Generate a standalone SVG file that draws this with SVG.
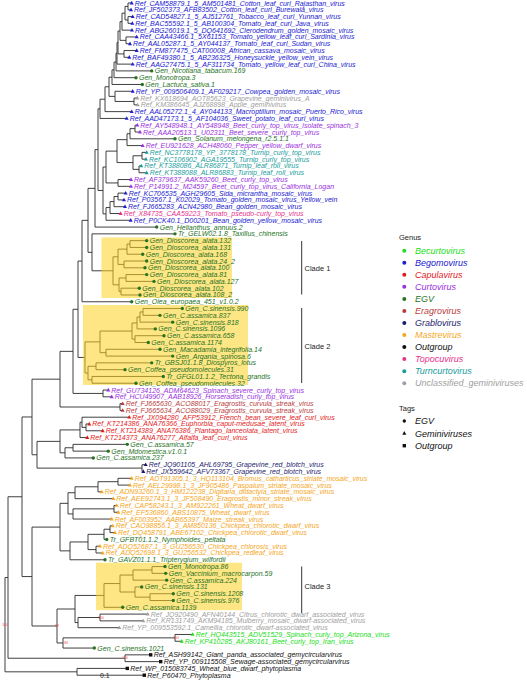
<svg xmlns="http://www.w3.org/2000/svg" xmlns:xlink="http://www.w3.org/1999/xlink" width="527" height="680" viewBox="0 0 527 680">
<style>
.e{fill:none;stroke:#2b2b2b;stroke-width:0.9}
.t{font-family:"Liberation Sans",Arial,sans-serif;font-style:italic;font-size:7px}
.lg{font-family:"Liberation Sans",Arial,sans-serif;font-style:italic;font-size:9px}
.ti{font-family:"Liberation Sans",Arial,sans-serif;font-size:7.5px;fill:#222}
.bs{font-family:"Liberation Sans",Arial,sans-serif;font-size:3.3px;fill:#e8474c;text-anchor:middle}
.hl{fill:#ffd21f;fill-opacity:0.55}
.bar{stroke:#333;stroke-width:1}
.be{fill:#22dd22}.bg{fill:#2020d0}.ca{fill:#e31a1c}.cu{fill:#9b30e0}.eg{fill:#267326}.er{fill:#b83c3c}
.gr{fill:#1c1c6e}.ma{fill:#f5a623}.og{fill:#111}.to{fill:#e6308a}.tu{fill:#199c9c}.un{fill:#a0a0a0}
</style>
<defs>
<circle id="c" r="1.7"/>
<path id="tr" d="M0,-2.2L2,1.4L-2,1.4Z"/>
<rect id="sq" x="-1.7" y="-1.7" width="3.4" height="3.4"/>
</defs>
<g id="connectors" class="e">
<path d="M131.7,3H128V9.79H131"/>
<path d="M132.7,16.58H128V23.37H132.3"/>
<path d="M128,6.4H125V19.98H128"/>
<path d="M125,13.19H122V30.16H132"/>
<path d="M136.7,36.95H126V43.74H130"/>
<path d="M122,21.67H120V40.35H126"/>
<path d="M136.7,50.53H124V57.32H129.3"/>
<path d="M120,31.01H118V53.93H124"/>
<path d="M118,42.47H117V64.11H132.7"/>
<path d="M117,53.29H116V70.9H151.7"/>
<path d="M116,62.1H114V77.69H136"/>
<path d="M114,69.9H112V84.48H142.3"/>
<path d="M137.3,98.06H134V104.85H137.7"/>
<path d="M132.7,91.27H115V101.46H134"/>
<path d="M112,77.19H109V96.36H115"/>
<path d="M109,86.78H105V111.64H131.7"/>
<path d="M105,99.21H100V118.43H126.7"/>
<path d="M137.3,125.22H135V132.01H140"/>
<path d="M135,128.62H130V138.8H175"/>
<path d="M130,133.71H127V145.59H142.7"/>
<path d="M146.7,152.38H142V159.17H146"/>
<path d="M141.3,165.96H139V172.75H146.7"/>
<path d="M142,155.78H133V169.36H139"/>
<path d="M127,139.65H117V162.57H133"/>
<path d="M131,179.54H118V186.33H131"/>
<path d="M117,151.11H106V182.94H118"/>
<path d="M125.7,193.12H118V199.91H124"/>
<path d="M118,196.52H114V206.7H125"/>
<path d="M114,201.61H110V213.49H120.7"/>
<path d="M110,207.55H106V220.28H130.7"/>
<path d="M106,167.03H103V213.92H106"/>
<path d="M100,108.82H98V190.47H103"/>
<path d="M98,149.65H95V227.07H156.7"/>
<path d="M146.7,240.65H130V247.44H146.7"/>
<path d="M130,244.05H127V254.23H142.7"/>
<path d="M146.7,261.02H124V267.81H145"/>
<path d="M127,249.14H118V264.42H124"/>
<path d="M146.7,274.6H126V281.39H154"/>
<path d="M139.3,288.18H121V294.97H140"/>
<path d="M126,278H119V291.58H121"/>
<path d="M118,256.78H113V284.79H119"/>
<path d="M175,233.86H92V270.79H113"/>
<path d="M95,188.36H88V252.33H92"/>
<path d="M88,220.35H82V301.76H131.7"/>
<path d="M182.3,308.55H143V315.34H160"/>
<path d="M143,311.95H140V322.13H172.7"/>
<path d="M140,317.04H137V328.92H155.3"/>
<path d="M164,335.71H135V342.5H148.3"/>
<path d="M137,322.98H132V339.1H135"/>
<path d="M160,349.29H106V356.08H172.7"/>
<path d="M132,331.04H100V352.69H106"/>
<path d="M151.7,362.87H96V369.66H125"/>
<path d="M163.3,376.45H92V383.24H136"/>
<path d="M96,366.27H88V379.85H92"/>
<path d="M100,341.87H85V373.06H88"/>
<path d="M82,261.06H78V357.47H85"/>
<path d="M108.3,390.03H103V396.82H111.7"/>
<path d="M78,309.27H73V393.43H103"/>
<path d="M122.7,403.61H120V410.4H122.7"/>
<path d="M73,351.35H60V407H120"/>
<path d="M89.3,423.98H86V430.77H102.7"/>
<path d="M129.3,417.19H82V427.38H86"/>
<path d="M82,422.28H80V437.56H87.3"/>
<path d="M127.3,444.35H73V451.14H108.3"/>
<path d="M73,447.75H65V457.93H93.3"/>
<path d="M80,429.92H60V452.84H65"/>
<path d="M145.7,464.72H142V471.51H143.3"/>
<path d="M60,441.38H37V468.12H142"/>
<path d="M60,379.18H32V454.75H37"/>
<path d="M131.7,478.3H118V485.09H130"/>
<path d="M118,481.7H98V491.88H101.7"/>
<path d="M98,486.79H75V498.67H113.3"/>
<path d="M116.7,505.46H114V512.25H118.3"/>
<path d="M114,508.86H73V519.04H111.7"/>
<path d="M75,492.73H68V513.95H73"/>
<path d="M112.7,525.83H110V532.62H115"/>
<path d="M110,529.23H104V539.41H106.7"/>
<path d="M100,546.2H96V552.99H102.7"/>
<path d="M104,534.32H88V549.6H96"/>
<path d="M88,541.96H70V559.78H105"/>
<path d="M68,503.34H60V550.87H70"/>
<path d="M165,566.57H152V573.36H165.7"/>
<path d="M152,569.97H133V580.15H166.7"/>
<path d="M173.3,593.73H150V600.52H173.3"/>
<path d="M141.7,586.94H135V597.13H150"/>
<path d="M133,575.06H120V592.03H135"/>
<path d="M120,583.55H104V607.31H122.7"/>
<path d="M147.7,614.1H100V620.89H143.3"/>
<path d="M100,617.5H78V627.68H119.3"/>
<path d="M104,595.43H75V622.59H78"/>
<path d="M192.7,634.47H175V641.26H181.7"/>
<path d="M175,637.87H63V648.05H94.3"/>
<path d="M75,609.01H57V642.96H63"/>
<path d="M60,527.1H32V625.99H57"/>
<path d="M32,416.97H22V576.55H32"/>
<path d="M150.7,654.84H125V661.63H160.7"/>
<path d="M22,496.76H8V658.24H125"/>
<path d="M127.3,668.42H77V675.21H144.3"/>
<path d="M8,577.5H5V671.82H77"/>
</g>
<g id="highlights">
<rect class="hl" x="101.5" y="237.5" width="130.5" height="60.5"/>
<rect class="hl" x="83" y="305" width="165" height="80"/>
<rect class="hl" x="96" y="562.7" width="146" height="47.5"/>
</g>
<g id="bootstrap">
<text class="bs" x="5" y="625.8">100</text>
<text class="bs" x="125" y="659.4">100</text>
<text class="bs" x="176" y="639">100</text>
<text class="bs" x="101" y="618.6">100</text>
<text class="bs" x="57" y="627.1">89</text>
<text class="bs" x="66" y="644.1">84</text>
</g>
<g id="tips">
<g id="L1" class="bg"><use xlink:href="#tr" x="131.7" y="3"/><text class="t" x="134.7" y="5.5">Ref_CAM58879.1_5_AM501481_Cotton_leaf_curl_Rajasthan_virus</text></g>
<g id="L2" class="bg"><use xlink:href="#tr" x="131" y="9.79"/><text class="t" x="134" y="12.29">Ref_JF502373_AFB83502_Cotton_leaf_curl_Burewala_virus</text></g>
<g id="L3" class="bg"><use xlink:href="#tr" x="132.7" y="16.58"/><text class="t" x="135.7" y="19.08">Ref_CAD54827.1_5_AJ512761_Tobacco_leaf_curl_Yunnan_virus</text></g>
<g id="L4" class="bg"><use xlink:href="#tr" x="132.3" y="23.37"/><text class="t" x="135.3" y="25.87">Ref_BAC55592.1_5_AB100304_Tomato_leaf_curl_Java_virus</text></g>
<g id="L5" class="bg"><use xlink:href="#tr" x="132" y="30.16"/><text class="t" x="135" y="32.66">Ref_ABG26019.1_5_DQ641692_Clerodendrum_golden_mosaic_virus</text></g>
<g id="L6" class="bg"><use xlink:href="#tr" x="136.7" y="36.95"/><text class="t" x="139.7" y="39.45">Ref_CAA43466.1_5X61153_Tomato_yellow_leaf_curl_Sardinia_virus</text></g>
<g id="L7" class="bg"><use xlink:href="#tr" x="130" y="43.74"/><text class="t" x="133" y="46.24">Ref_AAL05287.1_5_AY044137_Tomato_leaf_curl_Sudan_virus</text></g>
<g id="L8" class="bg"><use xlink:href="#tr" x="136.7" y="50.53"/><text class="t" x="139.7" y="53.03">Ref_FM877475_CAT00008_African_cassava_mosaic_virus</text></g>
<g id="L9" class="bg"><use xlink:href="#tr" x="129.3" y="57.32"/><text class="t" x="132.3" y="59.82">Ref_BAF49380.1_5_AB236325_Honeysuckle_yellow_vein_virus</text></g>
<g id="L10" class="bg"><use xlink:href="#tr" x="132.7" y="64.11"/><text class="t" x="135.7" y="66.61">Ref_AAG27475.1_5_AF311734_Tomato_yellow_leaf_curl_China_virus</text></g>
<g id="L11" class="eg"><use xlink:href="#c" x="151.7" y="70.9"/><text class="t" x="154.7" y="73.4">Gen_Nicotiana_tabacum.169</text></g>
<g id="L12" class="eg"><use xlink:href="#c" x="136" y="77.69"/><text class="t" x="139" y="80.19">Gen_Monotropa.3</text></g>
<g id="L13" class="eg"><use xlink:href="#c" x="142.3" y="84.48"/><text class="t" x="145.3" y="86.98">Gen_Lactuca_sativa.1</text></g>
<g id="L14" class="bg"><use xlink:href="#tr" x="132.7" y="91.27"/><text class="t" x="135.7" y="93.77">Ref_YP_009506409.1_AF029217_Cowpea_golden_mosaic_virus</text></g>
<g id="L15" class="un"><use xlink:href="#tr" x="137.3" y="98.06"/><text class="t" x="140.3" y="100.56">Ref_KX618694_AOT85623_Grapevine_geminivirus_A</text></g>
<g id="L16" class="un"><use xlink:href="#tr" x="137.7" y="104.85"/><text class="t" x="140.7" y="107.35">Ref_KM386645_AJZ68898_Apple_geminivirus</text></g>
<g id="L17" class="bg"><use xlink:href="#tr" x="131.7" y="111.64"/><text class="t" x="134.7" y="114.14">Ref_AAL05272.1_4_AY044133_Macroptilium_mosaic_Puerto_Rico_virus</text></g>
<g id="L18" class="bg"><use xlink:href="#tr" x="126.7" y="118.43"/><text class="t" x="129.7" y="120.93">Ref_AAD47173.1_5_AF104036_Sweet_potato_leaf_curl_virus</text></g>
<g id="L19" class="cu"><use xlink:href="#tr" x="137.3" y="125.22"/><text class="t" x="140.3" y="127.72">Ref_AY548948.1_AY548948_Beet_curly_top_virus_isolate_spinach_3</text></g>
<g id="L20" class="cu"><use xlink:href="#tr" x="140" y="132.01"/><text class="t" x="143" y="134.51">Ref_AAA20513.1_U02311_Beet_severe_curly_top_virus</text></g>
<g id="L21" class="eg"><use xlink:href="#c" x="175" y="138.8"/><text class="t" x="178" y="141.3">Gen_Solanum_melongena_r2.5.1.1</text></g>
<g id="L22" class="cu"><use xlink:href="#tr" x="142.7" y="145.59"/><text class="t" x="145.7" y="148.09">Ref_EU921628_ACH48060_Pepper_yellow_dwarf_virus</text></g>
<g id="L23" class="tu"><use xlink:href="#tr" x="146.7" y="152.38"/><text class="t" x="149.7" y="154.88">Ref_NC3778178_YP_3778178_Turnip_curly_top_virus</text></g>
<g id="L24" class="tu"><use xlink:href="#tr" x="146" y="159.17"/><text class="t" x="149" y="161.67">Ref_KC106902_AGA19555_Turnip_curly_top_virus</text></g>
<g id="L25" class="tu"><use xlink:href="#tr" x="141.3" y="165.96"/><text class="t" x="144.3" y="168.46">Ref_KT388086_ALR86871_Turnip_leaf_roll_virus</text></g>
<g id="L26" class="tu"><use xlink:href="#tr" x="146.7" y="172.75"/><text class="t" x="149.7" y="175.25">Ref_KT388088_ALR86883_Turnip_leaf_roll_virus</text></g>
<g id="L27" class="cu"><use xlink:href="#tr" x="131" y="179.54"/><text class="t" x="134" y="182.04">Ref_AF379637_AAK59260_Beet_curly_top_virus</text></g>
<g id="L28" class="cu"><use xlink:href="#tr" x="131" y="186.33"/><text class="t" x="134" y="188.83">Ref_P14991.2_M24597_Beet_curly_top_virus_California_Logan</text></g>
<g id="L29" class="bg"><use xlink:href="#tr" x="125.7" y="193.12"/><text class="t" x="128.7" y="195.62">Ref_KC706535_AGH29605_Sida_micrantha_mosaic_virus</text></g>
<g id="L30" class="bg"><use xlink:href="#tr" x="124" y="199.91"/><text class="t" x="127" y="202.41">Ref_P03567.1_K02029_Tomato_golden_mosaic_virus_Yellow_vein</text></g>
<g id="L31" class="bg"><use xlink:href="#tr" x="125" y="206.7"/><text class="t" x="128" y="209.2">Ref_FJ665283_ACN42980_Bean_golden_mosaic_virus</text></g>
<g id="L32" class="to"><use xlink:href="#tr" x="120.7" y="213.49"/><text class="t" x="123.7" y="215.99">Ref_X84735_CAA59223_Tomato_pseudo-curly_top_virus</text></g>
<g id="L33" class="bg"><use xlink:href="#tr" x="130.7" y="220.28"/><text class="t" x="133.7" y="222.78">Ref_P0CK40.1_D00201_Bean_golden_yellow_mosaic_virus</text></g>
<g id="L34" class="eg"><use xlink:href="#c" x="156.7" y="227.07"/><text class="t" x="159.7" y="229.57">Gen_Helianthus_annuus.2</text></g>
<g id="L35" class="eg"><use xlink:href="#c" x="175" y="233.86"/><text class="t" x="178" y="236.36">Tr_GELW02.1.8_Taxillus_chinensis</text></g>
<g id="L36" class="eg"><use xlink:href="#c" x="146.7" y="240.65"/><text class="t" x="149.7" y="243.15">Gen_Dioscorea_alata.132</text></g>
<g id="L37" class="eg"><use xlink:href="#c" x="146.7" y="247.44"/><text class="t" x="149.7" y="249.94">Gen_Dioscorea_alata.131</text></g>
<g id="L38" class="eg"><use xlink:href="#c" x="142.7" y="254.23"/><text class="t" x="145.7" y="256.73">Gen_Dioscorea_alata.168</text></g>
<g id="L39" class="eg"><use xlink:href="#c" x="146.7" y="261.02"/><text class="t" x="149.7" y="263.52">Gen_Dioscorea_alata.24_2</text></g>
<g id="L40" class="eg"><use xlink:href="#c" x="145" y="267.81"/><text class="t" x="148" y="270.31">Gen_Dioscorea_alata.100</text></g>
<g id="L41" class="eg"><use xlink:href="#c" x="146.7" y="274.6"/><text class="t" x="149.7" y="277.1">Gen_Dioscorea_alata.81</text></g>
<g id="L42" class="eg"><use xlink:href="#c" x="154" y="281.39"/><text class="t" x="157" y="283.89">Gen_Dioscorea_alata.127</text></g>
<g id="L43" class="eg"><use xlink:href="#c" x="139.3" y="288.18"/><text class="t" x="142.3" y="290.68">Gen_Dioscorea_alata.102</text></g>
<g id="L44" class="eg"><use xlink:href="#c" x="140" y="294.97"/><text class="t" x="143" y="297.47">Gen_Dioscorea_alata.108_2</text></g>
<g id="L45" class="eg"><use xlink:href="#c" x="131.7" y="301.76"/><text class="t" x="134.7" y="304.26">Gen_Olea_europaea_451_v1.0.2</text></g>
<g id="L46" class="eg"><use xlink:href="#c" x="182.3" y="308.55"/><text class="t" x="185.3" y="311.05">Gen_C.sinensis.990</text></g>
<g id="L47" class="eg"><use xlink:href="#c" x="160" y="315.34"/><text class="t" x="163" y="317.84">Gen_C.assamica.837</text></g>
<g id="L48" class="eg"><use xlink:href="#c" x="172.7" y="322.13"/><text class="t" x="175.7" y="324.63">Gen_C.sinensis.818</text></g>
<g id="L49" class="eg"><use xlink:href="#c" x="155.3" y="328.92"/><text class="t" x="158.3" y="331.42">Gen_C.sinensis.1096</text></g>
<g id="L50" class="eg"><use xlink:href="#c" x="164" y="335.71"/><text class="t" x="167" y="338.21">Gen_C.assamica.658</text></g>
<g id="L51" class="eg"><use xlink:href="#c" x="148.3" y="342.5"/><text class="t" x="151.3" y="345">Gen_C.assamica.1174</text></g>
<g id="L52" class="eg"><use xlink:href="#c" x="160" y="349.29"/><text class="t" x="163" y="351.79">Gen_Macadamia_integrifolia.14</text></g>
<g id="L53" class="eg"><use xlink:href="#c" x="172.7" y="356.08"/><text class="t" x="175.7" y="358.58">Gen_Argania_spinosa.6</text></g>
<g id="L54" class="eg"><use xlink:href="#c" x="151.7" y="362.87"/><text class="t" x="154.7" y="365.37">Tr_GBSJ01.1.8_Diospyros_lotus</text></g>
<g id="L55" class="eg"><use xlink:href="#c" x="125" y="369.66"/><text class="t" x="128" y="372.16">Gen_Coffea_pseudomolecules.31</text></g>
<g id="L56" class="eg"><use xlink:href="#c" x="163.3" y="376.45"/><text class="t" x="166.3" y="378.95">Tr_GFGL01.1.2_Tectona_grandis</text></g>
<g id="L57" class="eg"><use xlink:href="#c" x="136" y="383.24"/><text class="t" x="139" y="385.74">Gen_Coffea_pseudomolecules.32</text></g>
<g id="L58" class="cu"><use xlink:href="#tr" x="108.3" y="390.03"/><text class="t" x="111.3" y="392.53">Ref_GU734126_ADM64623_Spinach_severe_curly_top_virus</text></g>
<g id="L59" class="cu"><use xlink:href="#tr" x="111.7" y="396.82"/><text class="t" x="114.7" y="399.32">Ref_HCU49907_AAB18926_Horseradish_curly_top_virus</text></g>
<g id="L60" class="er"><use xlink:href="#tr" x="122.7" y="403.61"/><text class="t" x="125.7" y="406.11">Ref_FJ665630_ACO88017_Eragrostis_curvula_streak_virus</text></g>
<g id="L61" class="er"><use xlink:href="#tr" x="122.7" y="410.4"/><text class="t" x="125.7" y="412.9">Ref_FJ665634_ACO88029_Eragrostis_curvula_streak_virus</text></g>
<g id="L62" class="ca"><use xlink:href="#tr" x="129.3" y="417.19"/><text class="t" x="132.3" y="419.69">Ref_JX094280_AFP53912_French_bean_severe_leaf_curl_virus</text></g>
<g id="L63" class="ca"><use xlink:href="#tr" x="89.3" y="423.98"/><text class="t" x="92.3" y="426.48">Ref_KT214386_ANA76366_Euphorbia_caput-medusae_latent_virus</text></g>
<g id="L64" class="ca"><use xlink:href="#tr" x="102.7" y="430.77"/><text class="t" x="105.7" y="433.27">Ref_KT214389_ANA76386_Plantago_lanceolata_latent_virus</text></g>
<g id="L65" class="ca"><use xlink:href="#tr" x="87.3" y="437.56"/><text class="t" x="90.3" y="440.06">Ref_KT214373_ANA76277_Alfalfa_leaf_curl_virus</text></g>
<g id="L66" class="eg"><use xlink:href="#c" x="127.3" y="444.35"/><text class="t" x="130.3" y="446.85">Gen_C.assamica.57</text></g>
<g id="L67" class="eg"><use xlink:href="#c" x="108.3" y="451.14"/><text class="t" x="111.3" y="453.64">Gen_Mdomestica.v1.0.1</text></g>
<g id="L68" class="eg"><use xlink:href="#c" x="93.3" y="457.93"/><text class="t" x="96.3" y="460.43">Gen_C.assamica.237</text></g>
<g id="L69" class="gr"><use xlink:href="#tr" x="145.7" y="464.72"/><text class="t" x="148.7" y="467.22">Ref_JQ901105_AHL69795_Grapevine_red_blotch_virus</text></g>
<g id="L70" class="gr"><use xlink:href="#tr" x="143.3" y="471.51"/><text class="t" x="146.3" y="474.01">Ref_JX559642_AFV73367_Grapevine_red_blotch_virus</text></g>
<g id="L71" class="ma"><use xlink:href="#tr" x="131.7" y="478.3"/><text class="t" x="134.7" y="480.8">Ref_ADT91305.1_3_HQ113104_Bromus_catharticus_striate_mosaic_virus</text></g>
<g id="L72" class="ma"><use xlink:href="#tr" x="130" y="485.09"/><text class="t" x="133" y="487.59">Ref_AEL29998.1_3_JF905486_Paspalum_striate_mosaic_virus</text></g>
<g id="L73" class="ma"><use xlink:href="#tr" x="101.7" y="491.88"/><text class="t" x="104.7" y="494.38">Ref_ADN93260.1_3_HM122238_Digitaria_didactyla_striate_mosaic_virus</text></g>
<g id="L74" class="ma"><use xlink:href="#tr" x="113.3" y="498.67"/><text class="t" x="116.3" y="501.17">Ref_AEE92743.1_3_JF508490_Eragrostis_minor_streak_virus</text></g>
<g id="L75" class="ma"><use xlink:href="#tr" x="116.7" y="505.46"/><text class="t" x="119.7" y="507.96">Ref_CAP58243.1_3_AM922261_Wheat_dwarf_virus</text></g>
<g id="L76" class="ma"><use xlink:href="#tr" x="118.3" y="512.25"/><text class="t" x="121.3" y="514.75">Ref_EF536860_ABS10875_Wheat_dwarf_virus</text></g>
<g id="L77" class="ma"><use xlink:href="#tr" x="111.7" y="519.04"/><text class="t" x="114.7" y="521.54">Ref_AF003952_AAB65397_Maize_streak_virus</text></g>
<g id="L78" class="ma"><use xlink:href="#tr" x="112.7" y="525.83"/><text class="t" x="115.7" y="528.33">Ref_CAO98856.1_3_AM850136_Chickpea_chlorotic_dwarf_virus</text></g>
<g id="L79" class="ma"><use xlink:href="#tr" x="115" y="532.62"/><text class="t" x="118" y="535.12">Ref_DQ458791_ABE67102_Chickpea_chlorotic_dwarf_virus</text></g>
<g id="L80" class="eg"><use xlink:href="#c" x="106.7" y="539.41"/><text class="t" x="109.7" y="541.91">Tr_GFBT01.1.2_Nymphoides_peltata</text></g>
<g id="L81" class="ma"><use xlink:href="#tr" x="100" y="546.2"/><text class="t" x="103" y="548.7">Ref_ADQ52687.1_3_GU256530_Chickpea_chlorosis_virus</text></g>
<g id="L82" class="ma"><use xlink:href="#tr" x="102.7" y="552.99"/><text class="t" x="105.7" y="555.49">Ref_ADQ52698.1_3_GU256532_Chickpea_redleaf_virus</text></g>
<g id="L83" class="eg"><use xlink:href="#c" x="105" y="559.78"/><text class="t" x="108" y="562.28">Tr_GAVZ01.1.1_Tripterygium_wilfordii</text></g>
<g id="L84" class="eg"><use xlink:href="#c" x="165" y="566.57"/><text class="t" x="168" y="569.07">Gen_Monotropa.86</text></g>
<g id="L85" class="eg"><use xlink:href="#c" x="165.7" y="573.36"/><text class="t" x="168.7" y="575.86">Gen_Vaccinium_macrocarpon.59</text></g>
<g id="L86" class="eg"><use xlink:href="#c" x="166.7" y="580.15"/><text class="t" x="169.7" y="582.65">Gen_C.assamica.224</text></g>
<g id="L87" class="eg"><use xlink:href="#c" x="141.7" y="586.94"/><text class="t" x="144.7" y="589.44">Gen_C.sinensis.131</text></g>
<g id="L88" class="eg"><use xlink:href="#c" x="173.3" y="593.73"/><text class="t" x="176.3" y="596.23">Gen_C.sinensis.1208</text></g>
<g id="L89" class="eg"><use xlink:href="#c" x="173.3" y="600.52"/><text class="t" x="176.3" y="603.02">Gen_C.sinensis.976</text></g>
<g id="L90" class="eg"><use xlink:href="#c" x="122.7" y="607.31"/><text class="t" x="125.7" y="609.81">Gen_C.assamica.1139</text></g>
<g id="L91" class="un"><use xlink:href="#tr" x="147.7" y="614.1"/><text class="t" x="150.7" y="616.6">Ref_JQ920490_AFN40144_Citrus_chlorotic_dwarf_associated_virus</text></g>
<g id="L92" class="un"><use xlink:href="#tr" x="143.3" y="620.89"/><text class="t" x="146.3" y="623.39">Ref_KR131749_AKM94185_Mulberry_mosaic_dwarf-associated_virus</text></g>
<g id="L93" class="un"><use xlink:href="#tr" x="119.3" y="627.68"/><text class="t" x="122.3" y="630.18">Ref_YP_009553592.1_Camellia_chlorotic_dwarf-associated_virus</text></g>
<g id="L94" class="be"><use xlink:href="#tr" x="192.7" y="634.47"/><text class="t" x="195.7" y="636.97">Ref_HQ443515_ADV51529_Spinach_curly_top_Arizona_virus</text></g>
<g id="L95" class="be"><use xlink:href="#tr" x="181.7" y="641.26"/><text class="t" x="184.7" y="643.76">Ref_KP410285_AKJ80161_Beet_curly_top_Iran_virus</text></g>
<g id="L96" class="eg"><use xlink:href="#c" x="94.3" y="648.05"/><text class="t" x="97.3" y="650.55">Gen_C.sinensis.1021</text></g>
<g id="L97" class="og"><use xlink:href="#sq" x="150.7" y="654.84"/><text class="t" x="153.7" y="657.34">Ref_ASH99142_Giant_panda_associated_gemycircularvirus</text></g>
<g id="L98" class="og"><use xlink:href="#sq" x="160.7" y="661.63"/><text class="t" x="163.7" y="664.13">Ref_YP_009115508_Sewage-associated_gemycircularvirus</text></g>
<g id="L99" class="og"><use xlink:href="#sq" x="127.3" y="668.42"/><text class="t" x="130.3" y="670.92">Ref_WP_015083745_Wheat_blue_dwarf_phytoplasma</text></g>
<g id="L100" class="og"><use xlink:href="#sq" x="144.3" y="675.21"/><text class="t" x="147.3" y="677.71">Ref_P60470_Phytoplasma</text></g>
</g>
<g id="scale"><text class="ti" x="100" y="678.3" style="font-size:6.8px">0.1</text></g>
<g id="clades">
<g id="clade1"><line class="bar" x1="301.7" y1="241" x2="301.7" y2="294.5"/><text class="ti" x="304.5" y="270.7">Clade 1</text></g>
<g id="clade2"><line class="bar" x1="301.7" y1="308" x2="301.7" y2="383"/><text class="ti" x="304.5" y="349.4">Clade 2</text></g>
<g id="clade3"><line class="bar" x1="301.7" y1="566.5" x2="301.7" y2="613"/><text class="ti" x="304.5" y="589.4">Clade 3</text></g>
</g>
<g id="legend">
<text class="ti" x="399" y="239.5">Genus</text>
<g class="be"><circle cx="404.3" cy="250.7" r="2"/><text class="lg" x="415" y="253.9">Becurtovirus</text></g>
<g class="bg"><circle cx="404.3" cy="262.7" r="2"/><text class="lg" x="415" y="265.9">Begomovirus</text></g>
<g class="ca"><circle cx="404.3" cy="274.8" r="2"/><text class="lg" x="415" y="278">Capulavirus</text></g>
<g class="cu"><circle cx="404.3" cy="286.8" r="2"/><text class="lg" x="415" y="290">Curtovirus</text></g>
<g class="eg"><circle cx="404.3" cy="298.9" r="2"/><text class="lg" x="415" y="302.1">EGV</text></g>
<g class="er"><circle cx="404.3" cy="310.9" r="2"/><text class="lg" x="415" y="314.1">Eragrovirus</text></g>
<g class="gr"><circle cx="404.3" cy="323" r="2"/><text class="lg" x="415" y="326.2">Grablovirus</text></g>
<g class="ma"><circle cx="404.3" cy="335" r="2"/><text class="lg" x="415" y="338.2">Mastrevirus</text></g>
<g class="og"><circle cx="404.3" cy="347.1" r="2"/><text class="lg" x="415" y="350.3">Outgroup</text></g>
<g class="to"><circle cx="404.3" cy="359.1" r="2"/><text class="lg" x="415" y="362.3">Topocuvirus</text></g>
<g class="tu"><circle cx="404.3" cy="371.2" r="2"/><text class="lg" x="415" y="374.4">Turncurtovirus</text></g>
<g class="un"><circle cx="404.3" cy="383.2" r="2"/><text class="lg" x="415" y="386.4">Unclassified_geminiviruses</text></g>
<text class="ti" x="399" y="411">Tags</text>
<g class="og"><use xlink:href="#c" x="404.3" y="421"/><text class="lg" x="415" y="424.2">EGV</text></g>
<g class="og"><use xlink:href="#tr" x="404.3" y="433.3"/><text class="lg" x="415" y="436.5">Geminiviruses</text></g>
<g class="og"><use xlink:href="#sq" x="404.3" y="445.7"/><text class="lg" x="415" y="448.9">Outgroup</text></g>
</g>
</svg>
